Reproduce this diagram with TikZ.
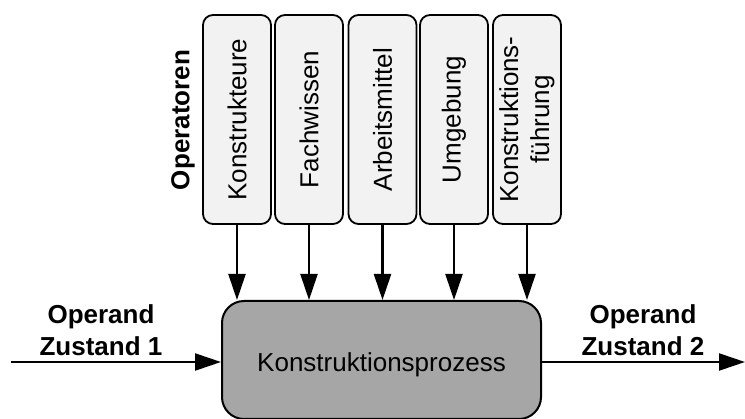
\documentclass[tikz,border=0pt]{standalone}
\usepackage{fontspec}
\setmainfont{Liberation Sans}
\usetikzlibrary{arrows.meta}
\begin{document}
\begin{tikzpicture}[x=1pt,y=-1pt,
  every node/.style={font=\fontsize{26}{31}\selectfont},
  opbox/.style={draw,line width=1.8pt,fill=black!5,rounded corners=10pt,rotate=90,
    minimum width=209pt,minimum height=68pt,inner sep=0pt,align=center},
  procbox/.style={draw,line width=2pt,fill=black!35,rounded corners=22pt,
    minimum width=319pt,minimum height=118pt,inner sep=0pt},
  flow/.style={line width=2.2pt,-{Triangle[length=26pt,width=17pt]}},
  lbl/.style={font=\fontsize{26}{32}\selectfont\bfseries,align=center,inner sep=0pt}]
\useasboundingbox (0,0) rectangle (745,419);
\node[procbox] (proc) at (381.5,360) {};
\node at (381.5,365) (proctext) {Konstruktionsprozess};
\node[opbox] (b1) at (237,119.5) {Konstrukteure};
\node[opbox] (b2) at (309,119.5) {Fachwissen};
\node[opbox] (b3) at (382.5,119.5) {Arbeitsmittel};
\node[opbox] (b4) at (454,119.5) {Umgebung};
\node[opbox] (b5) at (527,119.5) {Konstruktions-\\führung};
\node[lbl,rotate=90] (ops) at (183,120) {Operatoren};
\foreach \i in {1,...,5}{
  \draw[flow] (b\i.west) -- (b\i.west |- proc.north);
}
\coordinate (in) at (11,362);
\coordinate (out) at (745,362);
\draw[flow] (in) -- (in -| proc.west);
\draw[flow] (out -| proc.east) -- (out);
\node[lbl] (z1) at (101,330) {Operand\\Zustand 1};
\node[lbl] (z2) at (643,330) {Operand\\Zustand 2};
\end{tikzpicture}
\end{document}
